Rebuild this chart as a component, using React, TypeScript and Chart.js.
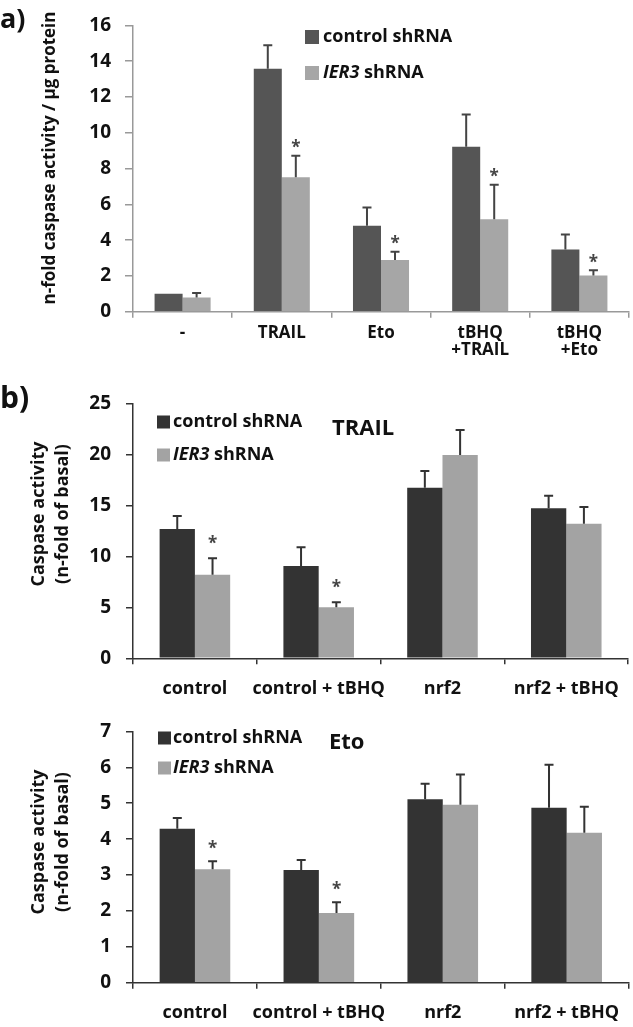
import React, { useEffect, useRef } from 'react';
import { Chart, registerables } from 'chart.js';

Chart.register(...registerables);

const FONT = '"Open Sans", Lato, "DejaVu Sans", sans-serif';

const seriesLabels = ['control shRNA', 'IER3 shRNA'];

// ---- Panel a ----
const categoriesA = ['-', 'TRAIL', 'Eto', ['tBHQ', '+TRAIL'], ['tBHQ', '+Eto']];
const controlA = [1.0, 13.58, 4.81, 9.22, 3.48];
const controlErrA = [0, 1.31, 1.02, 1.8, 0.84];
const ier3A = [0.8, 7.52, 2.89, 5.17, 2.02];
const ier3ErrA = [0.25, 1.2, 0.46, 1.93, 0.3];
const starsA = [false, true, true, true, true];
const yMaxA = 16;
const yStepA = 2;
const yTitleA = ['n-fold caspase activity / µg protein'];

// ---- Panel b (TRAIL) ----
const categoriesB = ['control', 'control + tBHQ', 'nrf2', 'nrf2 + tBHQ'];
const controlB = [12.68, 9.05, 16.73, 14.7];
const controlErrB = [1.27, 1.83, 1.63, 1.24];
const ier3B = [8.2, 5.0, 19.93, 13.2];
const ier3ErrB = [1.6, 0.49, 2.45, 1.63];
const starsB = [true, true, false, false];
const yMaxB = 25;
const yStepB = 5;
const yTitleB = ['Caspase activity', '(n-fold of basal)'];

// ---- Panel c (Eto) ----
const categoriesC = ['control', 'control + tBHQ', 'nrf2', 'nrf2 + tBHQ'];
const controlC = [4.29, 3.14, 5.11, 4.87];
const controlErrC = [0.3, 0.28, 0.43, 1.2];
const ier3C = [3.16, 1.94, 4.96, 4.18];
const ier3ErrC = [0.22, 0.3, 0.84, 0.72];
const starsC = [true, true, false, false];
const yMaxC = 7;
const yStepC = 1;
const yTitleC = ['Caspase activity', '(n-fold of basal)'];

function drawLegendLabel(ctx: CanvasRenderingContext2D, label: string, x: number, y: number, size: number) {
  ctx.textAlign = 'left';
  ctx.textBaseline = 'middle';
  if (label.startsWith('IER3')) {
    ctx.font = `italic bold ${size}px ${FONT}`;
    ctx.fillText('IER3', x, y);
    const w = ctx.measureText('IER3').width;
    ctx.font = `bold ${size}px ${FONT}`;
    ctx.fillText(label.slice(4), x + w, y);
  } else {
    ctx.font = `bold ${size}px ${FONT}`;
    ctx.fillText(label, x, y);
  }
}

const panelPlugin = {
  id: 'panelExtras',
  afterDatasetsDraw(chart: any, _args: any, opts: any) {
    const ctx: CanvasRenderingContext2D = chart.ctx;
    const yScale = chart.scales.y;
    ctx.save();
    // error bars
    chart.data.datasets.forEach((ds: any, di: number) => {
      const meta = chart.getDatasetMeta(di);
      const errs = opts.errors[di];
      meta.data.forEach((bar: any, j: number) => {
        const e = errs[j];
        if (!e) return;
        const top = yScale.getPixelForValue(ds.data[j] + e);
        ctx.strokeStyle = opts.errColor;
        ctx.lineWidth = 2;
        ctx.beginPath();
        ctx.moveTo(bar.x, bar.y);
        ctx.lineTo(bar.x, top);
        ctx.moveTo(bar.x - 4.5, top);
        ctx.lineTo(bar.x + 4.5, top);
        ctx.stroke();
      });
    });
    // significance stars on IER3 bars
    const meta1 = chart.getDatasetMeta(1);
    const ds1 = chart.data.datasets[1];
    ctx.fillStyle = '#444';
    ctx.font = `bold 17px ${FONT}`;
    ctx.textAlign = 'center';
    ctx.textBaseline = 'alphabetic';
    const m = ctx.measureText('*');
    meta1.data.forEach((bar: any, j: number) => {
      if (!opts.stars[j]) return;
      const top = yScale.getPixelForValue(ds1.data[j] + opts.errors[1][j]);
      const cy = top - opts.starOffset;
      const by = cy + (m.actualBoundingBoxAscent - m.actualBoundingBoxDescent) / 2;
      ctx.fillText('*', bar.x, by);
    });
    // legend
    const lg = opts.legend;
    chart.data.datasets.forEach((ds: any, i: number) => {
      const ry = lg.rows[i];
      ctx.fillStyle = ds.backgroundColor;
      ctx.fillRect(lg.x, ry - lg.box / 2, lg.box, lg.box);
      ctx.fillStyle = '#111';
      drawLegendLabel(ctx, ds.label, lg.textX, ry, lg.size);
    });
    // panel label
    ctx.fillStyle = '#111';
    ctx.textAlign = 'left';
    ctx.textBaseline = 'middle';
    ctx.font = `bold ${opts.panel.size}px ${FONT}`;
    ctx.fillText(opts.panel.text, opts.panel.x, opts.panel.y);
    if (opts.title) {
      ctx.font = `bold ${opts.title.size}px ${FONT}`;
      ctx.fillText(opts.title.text, opts.title.x, opts.title.y);
    }
    // y title
    const yt = opts.yTitle;
    ctx.font = `bold ${yt.size}px ${FONT}`;
    ctx.textAlign = 'center';
    ctx.textBaseline = 'middle';
    yt.lines.forEach((line: string, i: number) => {
      ctx.save();
      ctx.translate(yt.x + i * yt.lineHeight, yt.y);
      ctx.rotate(-Math.PI / 2);
      ctx.fillText(line, 0, 0);
      ctx.restore();
    });
    ctx.restore();
  },
};

function buildConfig(p: any): any {
  const tickFont = { family: FONT, size: 19, weight: 'bold' as const };
  return {
    type: 'bar',
    data: {
      labels: p.categories,
      datasets: [
        { label: seriesLabels[0], data: p.control, backgroundColor: p.dark, borderWidth: 0, categoryPercentage: p.catPct, barPercentage: 1 },
        { label: seriesLabels[1], data: p.ier3, backgroundColor: p.light, borderWidth: 0, categoryPercentage: p.catPct, barPercentage: 1 },
      ],
    },
    options: {
      responsive: false,
      maintainAspectRatio: false,
      animation: false,
      layout: { padding: { top: p.padTop, right: p.padRight, left: 0, bottom: 0 } },
      plugins: {
        legend: { display: false },
        tooltip: { enabled: false },
        panelExtras: {
          errors: [p.controlErr, p.ier3Err],
          stars: p.stars,
          starOffset: p.starOffset,
          errColor: p.errColor,
          legend: p.legend,
          panel: p.panel,
          title: p.title,
          yTitle: p.yTitle,
        },
      },
      scales: {
        x: {
          grid: { drawOnChartArea: false, tickLength: 6, color: p.axisColor, lineWidth: 1.5 },
          border: { color: p.axisColor, width: 1.5 },
          ticks: {
            font: { family: FONT, size: p.xFontSize, weight: 'bold', lineHeight: p.xLineHeight },
            color: '#111',
            padding: p.xPad,
            autoSkip: false,
            maxRotation: 0,
          },
          afterFit: (s: any) => { s.height = p.xHeight; },
        },
        y: {
          min: 0,
          max: p.yMax,
          ticks: { stepSize: p.yStep, font: tickFont, color: '#111', padding: p.yPad },
          grid: { drawOnChartArea: false, tickLength: p.yTick, color: p.axisColor, lineWidth: 1.5 },
          border: { color: p.axisColor, width: 1.5 },
          afterFit: (s: any) => { s.width = 133; },
        },
      },
    },
    plugins: [panelPlugin],
  };
}

const configA = () => buildConfig({
  categories: categoriesA, control: controlA, ier3: ier3A, controlErr: controlErrA, ier3Err: ier3ErrA,
  stars: starsA, starOffset: 12, yMax: yMaxA, yStep: yStepA,
  dark: '#555555', light: '#a6a6a6', errColor: '#444', axisColor: '#999',
  catPct: 0.565, padTop: 12.7, padRight: 4, xHeight: 53.3, xFontSize: 17, xLineHeight: 1.0, xPad: 6.8,
  yPad: 14, yTick: 8,
  legend: { x: 305, box: 14, rows: [37, 73], textX: 323, size: 18 },
  panel: { text: 'a)', x: 0, y: 20, size: 27 },
  title: null,
  yTitle: { lines: yTitleA, x: 50, y: 158, size: 17, lineHeight: 24 },
});

const configB = () => buildConfig({
  categories: categoriesB, control: controlB, ier3: ier3B, controlErr: controlErrB, ier3Err: ier3ErrB,
  stars: starsB, starOffset: 19, yMax: yMaxB, yStep: yStepB,
  dark: '#333333', light: '#a3a3a3', errColor: '#333', axisColor: '#333',
  catPct: 0.57, padTop: 28.3, padRight: 3, xHeight: 46.7, xFontSize: 18, xLineHeight: 1.2, xPad: 13.9,
  yPad: 15, yTick: 7,
  legend: { x: 157, box: 13, rows: [47, 80], textX: 173, size: 18 },
  panel: { text: 'b)', x: 0, y: 24, size: 30 },
  title: { text: 'TRAIL', x: 332, y: 54, size: 22 },
  yTitle: { lines: yTitleB, x: 39, y: 139, size: 18, lineHeight: 24 },
});

const configC = () => buildConfig({
  categories: categoriesC, control: controlC, ier3: ier3C, controlErr: controlErrC, ier3Err: ier3ErrC,
  stars: starsC, starOffset: 17, yMax: yMaxC, yStep: yStepC,
  dark: '#333333', light: '#a3a3a3', errColor: '#333', axisColor: '#333',
  catPct: 0.57, padTop: 21.7, padRight: 3, xHeight: 44.3, xFontSize: 18, xLineHeight: 1.2, xPad: 13.5,
  yPad: 15, yTick: 7,
  legend: { x: 158, box: 13, rows: [33, 63], textX: 173, size: 18 },
  panel: { text: '', x: 0, y: 0, size: 28 },
  title: { text: 'Eto', x: 329, y: 38, size: 22 },
  yTitle: { lines: yTitleC, x: 39, y: 137, size: 18, lineHeight: 24 },
});

function Panel({ makeConfig, top, height }: { makeConfig: () => any; top: number; height: number }) {
  const ref = useRef<HTMLCanvasElement>(null);
  useEffect(() => {
    const chart = new Chart(ref.current as HTMLCanvasElement, makeConfig());
    return () => chart.destroy();
  }, []);
  return (
    <canvas
      ref={ref}
      width={633}
      height={height}
      style={{ position: 'absolute', left: 0, top, width: 633, height }}
    />
  );
}

export default function App() {
  return (
    <div style={{ position: 'absolute', left: 0, top: 0, width: 633, height: 1027, background: '#fff', overflow: 'hidden' }}>
      <Panel makeConfig={configA} top={0} height={365} />
      <Panel makeConfig={configB} top={375} height={330} />
      <Panel makeConfig={configC} top={705} height={322} />
    </div>
  );
}
